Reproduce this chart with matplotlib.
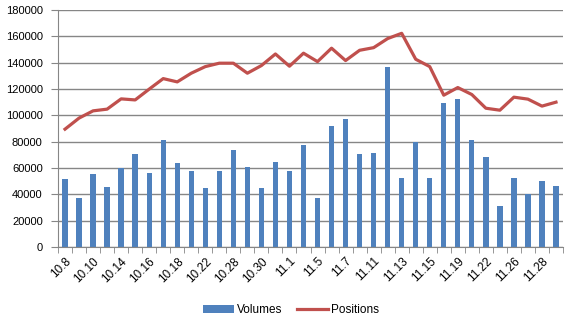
import matplotlib
matplotlib.use("Agg")
import matplotlib.pyplot as plt
import numpy as np

dates = ["10.8", "10.9", "10.10", "10.11", "10.14", "10.15", "10.16", "10.17",
         "10.18", "10.21", "10.22", "10.23", "10.28", "10.29", "10.30", "10.31",
         "11.1", "11.4", "11.5", "11.6", "11.7", "11.8", "11.11", "11.12",
         "11.13", "11.14", "11.15", "11.18", "11.19", "11.21", "11.22", "11.25",
         "11.26", "11.27", "11.28", "11.29"]

volumes = [52000, 37500, 55600, 45700, 59800, 70800, 56400, 81400,
           64000, 57900, 45000, 57900, 73800, 60900, 45000, 64700,
           57900, 77600, 37400, 92000, 97300, 70800, 71500, 136800,
           52600, 79400, 52600, 109500, 112500, 81400, 68500, 31300,
           52600, 40400, 50300, 46500]

positions = [89500, 97900, 103400, 104700, 112500, 111700, 119900, 127900,
             125400, 132000, 137000, 139600, 139600, 132000, 137800, 146600,
             137300, 147200, 140800, 151000, 141600, 149400, 151400, 158300,
             162300, 142600, 137000, 115300, 121100, 115800, 105400, 103900,
             113800, 112300, 107000, 110000]

yticks = [0, 20000, 40000, 60000, 80000, 100000, 120000, 140000, 160000, 180000]

plt.rcParams['font.family'] = ['Liberation Sans', 'DejaVu Sans']

fig = plt.figure(figsize=(5.71, 3.27), dpi=100)
ax = fig.add_axes([58/571, 1-247/327, (563-58)/571, (247-10)/327])

x = np.arange(len(dates))
bars = ax.bar(x, volumes, width=0.38, color='#4F81BD', label='Volumes', zorder=2)
line, = ax.plot(x, positions, color='#C0504D', lw=2.3, label='Positions', zorder=3)

ax.set_xlim(-0.5, len(dates) - 0.5)
ax.set_ylim(0, 180000)
ax.set_yticks(yticks)
ax.set_yticklabels([str(v) for v in yticks], fontsize=8)
ax.yaxis.grid(True, color='#868686', lw=1)
ax.set_axisbelow(True)

ax.set_xticks(x[::2])
ax.set_xticklabels(dates[::2], rotation=45, ha='right', va='top',
                   rotation_mode='anchor', fontsize=8.5)
ax.tick_params(axis='x', length=0, pad=6)
ax.set_xticks(np.arange(len(dates) + 1) - 0.5, minor=True)
ax.tick_params(axis='x', which='minor', length=4, color='#868686')
ax.tick_params(axis='y', length=5, color='#868686', pad=6)

for s in ['top', 'right']:
    ax.spines[s].set_visible(False)
for s in ['left', 'bottom']:
    ax.spines[s].set_color('#868686')

fig.legend(handles=[bars, line], labels=['Volumes', 'Positions'],
           loc='lower center', bbox_to_anchor=(0.51, 0.0), ncol=2, frameon=False,
           fontsize=8.5, handlelength=2.6, handleheight=0.6, columnspacing=1.2,
           handletextpad=0.3)

fig.savefig('out.png', dpi=100)
